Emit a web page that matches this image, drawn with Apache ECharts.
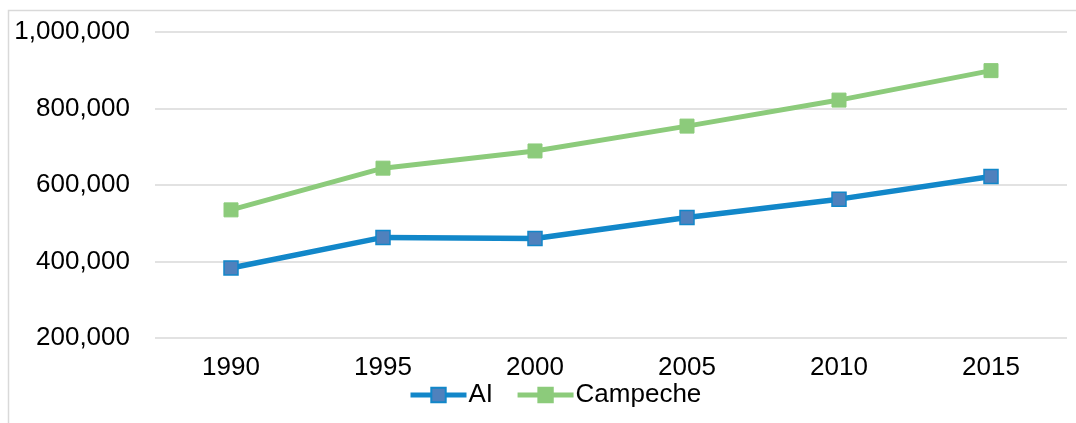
<!DOCTYPE html>
<html>
<head>
<meta charset="utf-8">
<script src="https://cdn.jsdelivr.net/npm/echarts@6/dist/echarts.min.js"></script>
<style>
  html, body { margin: 0; padding: 0; background: #fff; }
  #chart { width: 1076px; height: 423px; }
</style>
</head>
<body>
<div id="chart"></div>
<script>
// 数据
const years = ['1990', '1995', '2000', '2005', '2010', '2015'];
const aiValues = [383000, 463000, 460000, 515000, 563000, 622000];
const campecheValues = [535000, 644000, 689000, 754000, 822000, 899000];
const yTicks = [200000, 400000, 600000, 800000, 1000000];

const chart = echarts.init(document.getElementById('chart'), null, { renderer: 'canvas' });

const font = '"Liberation Sans", Arial, sans-serif';

const option = {
  animation: false,
  textStyle: { fontFamily: font },
  graphic: [
    {
      type: 'rect',
      shape: { x: 8.5, y: 10.5, width: 1200, height: 600 },
      style: { fill: 'none', stroke: '#d9d9d9', lineWidth: 1.5 },
      silent: true
    }
  ],
  grid: {
    left: 155,
    right: 9,
    top: 32,
    bottom: 85
  },
  legend: {
    left: 403,
    top: 377,
    itemWidth: 56,
    itemHeight: 18,
    itemGap: 22,
    textStyle: { fontSize: 26, color: '#000', fontFamily: font, padding: [0, 0, 0, -3] },
    data: [
      { name: 'AI', lineStyle: { width: 5 } },
      { name: 'Campeche', lineStyle: { width: 5 } }
    ]
  },
  xAxis: {
    type: 'category',
    data: years,
    boundaryGap: true,
    axisLine: { show: false },
    axisTick: { show: false },
    axisLabel: { fontSize: 26, color: '#000', margin: 17, fontFamily: font }
  },
  yAxis: {
    type: 'value',
    min: yTicks[0],
    max: yTicks[yTicks.length - 1],
    interval: 200000,
    axisLine: { show: false },
    axisTick: { show: false },
    axisLabel: {
      fontSize: 26,
      color: '#000',
      margin: 25,
      fontFamily: font,
      formatter: v => v.toLocaleString('en-US')
    },
    splitLine: { lineStyle: { color: '#d9d9d9', width: 1.5 } }
  },
  series: [
    {
      name: 'AI',
      type: 'line',
      data: aiValues,
      symbol: 'rect',
      symbolSize: 14,
      lineStyle: { color: '#1287C9', width: 5.5 },
      itemStyle: { color: '#4F81BD', borderColor: '#1287C9', borderWidth: 1.5 }
    },
    {
      name: 'Campeche',
      type: 'line',
      data: campecheValues,
      symbol: 'rect',
      symbolSize: 14,
      lineStyle: { color: '#8CCB7B', width: 5 },
      itemStyle: { color: '#8CCB7B', borderColor: '#8CCB7B', borderWidth: 1 }
    }
  ]
};

chart.setOption(option);
</script>
</body>
</html>
